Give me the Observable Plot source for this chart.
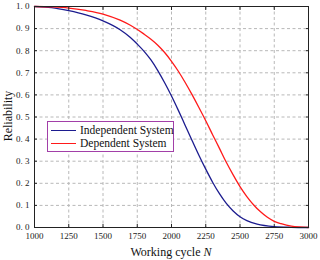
<!DOCTYPE html>
<html>
<head>
<meta charset="utf-8">
<script src="https://cdn.jsdelivr.net/npm/d3@7"></script>
<script src="https://cdn.jsdelivr.net/npm/@observablehq/plot@0.6"></script>
<style>
  html, body { margin: 0; padding: 0; background: #fff; }
  #wrap { position: relative; width: 320px; height: 260px; font-family: "Liberation Serif", "Times New Roman", serif; }
  #legend { position: absolute; left: 47px; top: 121px; width: 127px; height: 31px; border: 1px solid #a23fa8; background: #fff; box-sizing: border-box; font-size: 11.5px; color: #111; }
  .row { position: absolute; left: 3px; height: 13px; display: flex; align-items: center; white-space: nowrap; }
  .sw { width: 25px; height: 0; border-top: 1.5px solid; margin-right: 4px; }
</style>
</head>
<body>
<div id="wrap"><div id="legend"></div></div>
<script>
const xTicks = [1000, 1250, 1500, 1750, 2000, 2250, 2500, 2750, 3000];
const yTicks = [0, 0.1, 0.2, 0.3, 0.4, 0.5, 0.6, 0.7, 0.8, 0.9, 1.0];

const seriesNames = ["Independent System", "Dependent System"];
const seriesColors = ["#1c1c8f", "#ff1a1a"];

const indepN = [1000, 1125, 1250, 1375, 1500, 1625, 1700, 1750, 1800, 1850, 1900, 1950, 2000, 2050, 2100, 2150, 2200, 2250, 2300, 2350, 2400, 2450, 2500, 2550, 2625, 2750, 2875, 3000];
const indepR = [1.000, 0.995, 0.981, 0.962, 0.935, 0.895, 0.860, 0.830, 0.797, 0.758, 0.710, 0.655, 0.595, 0.530, 0.462, 0.394, 0.327, 0.264, 0.205, 0.153, 0.109, 0.075, 0.049, 0.031, 0.015, 0.004, 0.001, 0.000];

const depN = [1000, 1125, 1250, 1375, 1500, 1625, 1700, 1800, 1850, 1900, 1950, 2000, 2050, 2100, 2150, 2200, 2250, 2300, 2350, 2400, 2450, 2500, 2550, 2600, 2650, 2700, 2750, 2800, 2875, 3000];
const depR = [1.000, 0.998, 0.993, 0.982, 0.966, 0.938, 0.915, 0.875, 0.852, 0.825, 0.792, 0.752, 0.707, 0.656, 0.601, 0.543, 0.483, 0.420, 0.358, 0.295, 0.238, 0.185, 0.140, 0.102, 0.071, 0.046, 0.028, 0.017, 0.006, 0.000];

const data = [
  ...indepN.map((n, i) => ({N: n, R: indepR[i], s: seriesNames[0]})),
  ...depN.map((n, i) => ({N: n, R: depR[i], s: seriesNames[1]}))
];

const fmtX = d => String(d);
const fmtY = d => d.toFixed(1).replace(".", ". ");
const blank = () => "";

const chart = Plot.plot({
  width: 320,
  height: 260,
  marginLeft: 34,
  marginRight: 12,
  marginTop: 6,
  marginBottom: 33,
  style: {fontFamily: "'Liberation Serif', 'Times New Roman', serif", fontSize: "9px", background: "#fff", color: "#222"},
  x: {domain: [1000, 3000]},
  y: {domain: [0, 1]},
  color: {domain: seriesNames, range: seriesColors},
  marks: [
    Plot.gridX(xTicks, {stroke: "#b8b8b8", strokeOpacity: 1, strokeDasharray: "3,2.5"}),
    Plot.gridY(yTicks, {stroke: "#b8b8b8", strokeOpacity: 1, strokeDasharray: "3,2.5"}),
    Plot.line(data, {x: "N", y: "R", stroke: "s", z: "s", strokeWidth: 1.3, curve: "monotone-x"}),
    Plot.frame({stroke: "#222", strokeWidth: 1}),
    Plot.axisX(xTicks, {anchor: "bottom", tickSize: 0, tickPadding: 5, tickFormat: fmtX, label: null}),
    Plot.axisX(xTicks, {anchor: "bottom", tickSize: -3, tickFormat: blank, label: null, stroke: "#222"}),
    Plot.axisX(xTicks, {anchor: "top", tickSize: -3, tickFormat: blank, label: null, stroke: "#222"}),
    Plot.axisY(yTicks, {anchor: "left", tickSize: 0, tickPadding: 5, tickFormat: fmtY, label: null}),
    Plot.axisY(yTicks, {anchor: "left", tickSize: -3, tickFormat: blank, label: null, stroke: "#222"}),
    Plot.axisY(yTicks, {anchor: "right", tickSize: -3, tickFormat: blank, label: null, stroke: "#222"})
  ]
});

const wrap = document.getElementById("wrap");
wrap.insertBefore(chart, wrap.firstChild);

const svg = d3.select(chart);
const xt = svg.append("text")
  .attr("x", 171).attr("y", 256)
  .attr("text-anchor", "middle")
  .attr("font-size", 12).attr("fill", "#111");
xt.append("tspan").text("Working cycle ");
xt.append("tspan").attr("font-style", "italic").text("N");

svg.append("text")
  .attr("transform", "translate(12,116) rotate(-90)")
  .attr("text-anchor", "middle")
  .attr("font-size", 12).attr("fill", "#111")
  .text("Reliability");

const legend = d3.select("#legend");
seriesNames.forEach((name, i) => {
  const row = legend.append("div").attr("class", "row").style("top", (1.5 + i * 13) + "px");
  row.append("div").attr("class", "sw").style("border-top-color", seriesColors[i]);
  row.append("span").text(name);
});
</script>
</body>
</html>
